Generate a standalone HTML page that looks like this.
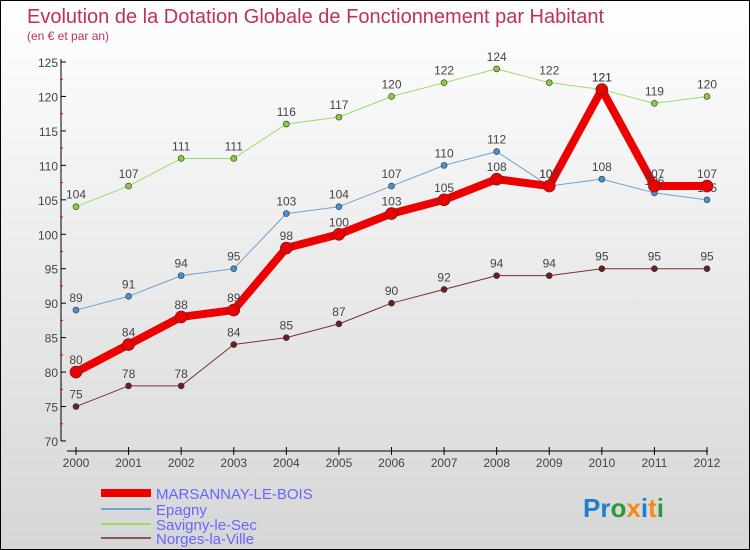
<!DOCTYPE html>
<html><head><meta charset="utf-8"><style>
body{margin:0}
#c{width:750px;height:550px;position:relative;overflow:hidden;background:linear-gradient(#ffffff,#d6d6d6);border:1px solid #000;box-sizing:border-box;font-family:"Liberation Sans",sans-serif}
</style></head><body>
<div id="c">
<svg id="s" width="750" height="550" xmlns="http://www.w3.org/2000/svg">
<text x="26" y="22" font-size="20" fill="#c0305a">Evolution de la Dotation Globale de Fonctionnement par Habitant</text>
<text x="26" y="39" font-size="12" fill="#c0305a">(en € et par an)</text>
<g id="g"></g>
<g>
<line x1="100" y1="492" x2="150" y2="492" stroke="#ee0000" stroke-width="8"/>
<text x="155" y="498" font-size="15" fill="#6666ff">MARSANNAY-LE-BOIS</text>
<line x1="100" y1="508" x2="150" y2="508" stroke="#6fa3d0" stroke-width="2"/>
<text x="155" y="514" font-size="15" fill="#6666ff">Epagny</text>
<line x1="100" y1="523" x2="150" y2="523" stroke="#99dd66" stroke-width="2"/>
<text x="155" y="529" font-size="15" fill="#6666ff">Savigny-le-Sec</text>
<line x1="100" y1="537" x2="150" y2="537" stroke="#8a5555" stroke-width="2"/>
<text x="155" y="543" font-size="15" fill="#6666ff">Norges-la-Ville</text>
</g>
<g font-size="26" font-weight="bold">
<text x="582" y="516"><tspan fill="#1e7fd0">Pr</tspan><tspan fill="#2a9a3a">o</tspan><tspan fill="#f08a1a">x</tspan><tspan fill="#1e7fd0">i</tspan><tspan fill="#f08a1a">t</tspan><tspan fill="#2a9a3a">i</tspan></text>
</g>
</svg>
</div>
<script>
const years=[2000,2001,2002,2003,2004,2005,2006,2007,2008,2009,2010,2011,2012];
const marsannay=[80,84,88,89,98,100,103,105,108,107,121,107,107];
const epagny=[89,91,94,95,103,104,107,110,112,107,108,106,105];
const savigny=[104,107,111,111,116,117,120,122,124,122,121,119,120];
const norges=[75,78,78,84,85,87,90,92,94,94,95,95,95];
const yTicks=[70,75,80,85,90,95,100,105,110,115,120,125];
const NS='http://www.w3.org/2000/svg';
const g=document.getElementById('g');
function X(i){return 75+i*(706-75)/(years.length-1);}
function Y(v){return 440-(v-70)*(440-61)/55;}
function mk(t,a){const e=document.createElementNS(NS,t);for(const k in a)e.setAttribute(k,a[k]);g.appendChild(e);return e;}
// axes
let ax=mk('line',{x1:60,y1:58,x2:60,y2:440,stroke:'#000'});


let bx=mk('line',{x1:66,y1:450,x2:707,y2:450,stroke:'#000'});


yTicks.forEach(v=>{
 const y=Y(v);
 mk('line',{x1:60,y1:y,x2:65,y2:y,stroke:'#000'});
 const t=mk('text',{x:57,y:y+5,'font-size':12,fill:'#444','text-anchor':'end'});
 t.textContent=v;
 
 
 if(v<125){mk('line',{x1:59,y1:Y(v+2.5),x2:62,y2:Y(v+2.5),stroke:'#e00'});}
});
years.forEach((yr,i)=>{
 const x=X(i);
 mk('line',{x1:x,y1:446,x2:x,y2:454,stroke:'#000'});
 const t=mk('text',{x:x,y:466,'font-size':12,fill:'#444','text-anchor':'middle'});
 t.textContent=yr;
 
 
});
function series(d,col,w,r,name,dot){
 const pts=d.map((v,i)=>X(i)+','+Y(v)).join(' ');
 const p=mk('polyline',{points:pts,fill:'none',stroke:col,'stroke-width':w,'stroke-linejoin':'round'});
 
 
 d.forEach((v,i)=>{
  const c=mk('circle',{cx:X(i),cy:Y(v),r:r,fill:dot,stroke:'#333','stroke-width':0.6});
  
  
  const t=mk('text',{x:X(i),y:Y(v)-8,'font-size':12,fill:'#444','text-anchor':'middle'});
  t.textContent=v;
  
  
 });
}
series(norges,'#7a3030',1,3,'norges','#6a2020');
series(savigny,'#99dd66',1,3,'savigny','#88cc44');
series(epagny,'#6fa3d0',1,3,'epagny','#4a90d0');
series(marsannay,'#ee0000',8,6,'marsannay','#ee0000');
</script>
</body></html>
